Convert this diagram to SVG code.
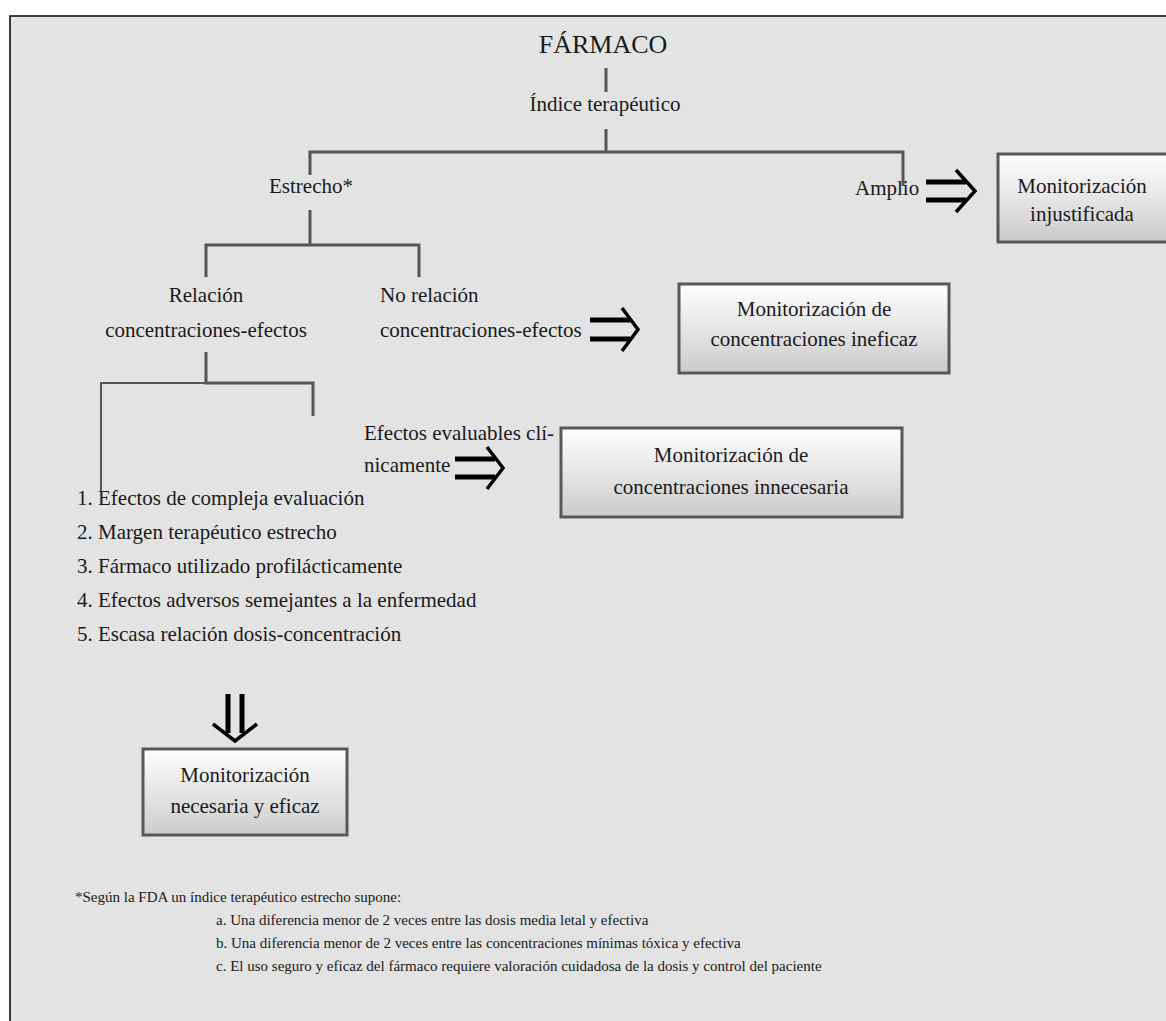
<svg xmlns="http://www.w3.org/2000/svg" width="1166" height="1021" viewBox="0 0 1166 1021">
<defs>
<linearGradient id="boxfill" x1="0" y1="0" x2="0" y2="1">
<stop offset="0" stop-color="#ffffff"/>
<stop offset="1" stop-color="#cbcbcb"/>
</linearGradient>
</defs>
<style>
text{font-family:"Liberation Serif","Times New Roman",serif;fill:#1a1a1a;font-size:21px}
.mid{text-anchor:middle}
.title{font-size:26px}
.note{font-size:15px}
.box{fill:url(#boxfill);stroke:#585858;stroke-width:3}
.ln{fill:none;stroke:#555;stroke-width:3}
.thin{fill:none;stroke:#555;stroke-width:2}
.bar{fill:none;stroke:#000;stroke-width:5}
.chev{fill:none;stroke:#000;stroke-width:3.5;stroke-linejoin:miter}
</style>
<rect x="0" y="0" width="1166" height="1021" fill="#ffffff"/>
<rect x="10" y="16" width="1180" height="1030" fill="#e3e3e3" stroke="#000" stroke-width="1.5"/>

<g id="connectors">
<path class="ln" d="M606 68V92"/>
<path class="ln" d="M606 129V152M310 175V152H903V186"/>
<path class="ln" d="M310 210V245M206 277V245H419V277"/>
<path class="ln" d="M206 352V383H313V416"/>
<path class="thin" d="M101 492V383H207"/>
<g id="arrow-amplio">
<path class="bar" d="M926 182H966M926 200H966"/>
<path class="chev" d="M956 170L975 191L956 212"/>
</g>
<g id="arrow-ineficaz">
<path class="bar" d="M590 320H630M590 339H630"/>
<path class="chev" d="M622 308L638 329.5L622 351"/>
</g>
<g id="arrow-innecesaria">
<path class="bar" d="M455 459H495M455 477H495"/>
<path class="chev" d="M487 447L503 468L487 489"/>
</g>
<g id="arrow-necesaria">
<path class="bar" d="M228 694V733M242 694V733"/>
<path class="chev" d="M213 724L235 741L257 724"/>
</g>
</g>

<g id="farmaco"><text class="mid title" x="603" y="53">FÁRMACO</text></g>
<g id="indice"><text class="mid" x="605" y="111">Índice terapéutico</text></g>
<g id="estrecho"><text class="mid" x="311" y="193">Estrecho*</text></g>
<g id="amplio"><text x="855" y="195">Amplio</text></g>
<g id="box-injustificada">
<rect class="box" x="998" y="154" width="190" height="88"/>
<text class="mid" x="1082" y="193">Monitorización</text>
<text class="mid" x="1082" y="221">injustificada</text>
</g>
<g id="relacion">
<text class="mid" x="206" y="302">Relación</text>
<text class="mid" x="206" y="337">concentraciones-efectos</text>
</g>
<g id="no-relacion">
<text x="380" y="302">No relación</text>
<text x="380" y="337">concentraciones-efectos</text>
</g>
<g id="box-ineficaz">
<rect class="box" x="679" y="284" width="270" height="89"/>
<text class="mid" x="814" y="316">Monitorización de</text>
<text class="mid" x="814" y="346">concentraciones ineficaz</text>
</g>
<g id="efectos-evaluables">
<text x="364" y="440">Efectos evaluables clí-</text>
<text x="364" y="472">nicamente</text>
</g>
<g id="box-innecesaria">
<rect class="box" x="561" y="428" width="341" height="89"/>
<text class="mid" x="731" y="462">Monitorización de</text>
<text class="mid" x="731" y="494">concentraciones innecesaria</text>
</g>
<g id="criterios">
<text x="77" y="505">1. Efectos de compleja evaluación</text>
<text x="77" y="539">2. Margen terapéutico estrecho</text>
<text x="77" y="573">3. Fármaco utilizado profilácticamente</text>
<text x="77" y="607">4. Efectos adversos semejantes a la enfermedad</text>
<text x="77" y="641">5. Escasa relación dosis-concentración</text>
</g>
<g id="box-necesaria">
<rect class="box" x="143" y="749" width="204" height="86"/>
<text class="mid" x="245" y="782">Monitorización</text>
<text class="mid" x="245" y="813">necesaria y eficaz</text>
</g>
<g id="nota">
<text class="note" x="75" y="902">*Según la FDA un índice terapéutico estrecho supone:</text>
<text class="note" x="216" y="925">a. Una diferencia menor de 2 veces entre las dosis media letal y efectiva</text>
<text class="note" x="216" y="948">b. Una diferencia menor de 2 veces entre las concentraciones mínimas tóxica y efectiva</text>
<text class="note" x="216" y="971">c. El uso seguro y eficaz del fármaco requiere valoración cuidadosa de la dosis y control del paciente</text>
</g>
</svg>
